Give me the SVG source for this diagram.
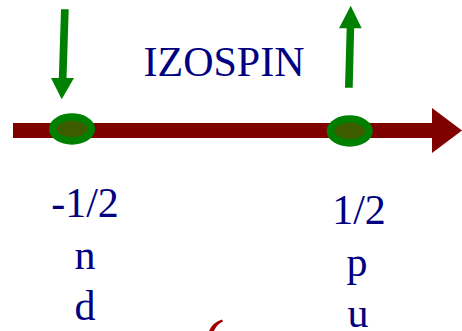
<svg xmlns="http://www.w3.org/2000/svg" width="462" height="331" viewBox="0 0 462 331">
<style>
text{font-family:"Liberation Serif","Times New Roman",serif;font-size:42px;fill:#000080;text-anchor:middle}
.spin{fill:#008000}
.node{fill:#3d5c00;stroke:#008000;stroke-width:7.5}
</style>
<rect width="462" height="331" fill="#ffffff"/>
<g id="axis">
<rect x="13" y="123" width="421" height="15" fill="#800000"/>
<polygon points="432,108 462,130.5 432,153" fill="#800000"/>
</g>
<g id="title"><text x="224" y="76">IZOSPIN</text></g>
<g id="node-neg">
<ellipse class="node" cx="72" cy="129" rx="19.3" ry="11.9"/>
<text x="85" y="217">-1/2</text>
<text x="85" y="269">n</text>
<text x="85" y="320">d</text>
</g>
<g id="node-pos">
<ellipse class="node" cx="349.7" cy="131" rx="19.3" ry="11.9"/>
<text x="359" y="224">1/2</text>
<text x="357" y="276">p</text>
<text x="358" y="327">u</text>
</g>
<g id="connectors">
<polygon class="spin" points="61,9.3 68.7,9.3 66.5,79 58.8,79"/>
<polygon class="spin" points="51,78 74,78 61.7,99.3"/>
<polygon class="spin" points="346.7,27 354.2,27 352.7,87.7 345,87.7"/>
<polygon class="spin" points="339,28.3 361.7,28.3 350.7,5.7"/>
</g>
<path d="M209 331 L214 331 Q217 324 223 321.5 L222 319.5 Q213 322 209 331 Z" fill="#a00000"/>
</svg>
